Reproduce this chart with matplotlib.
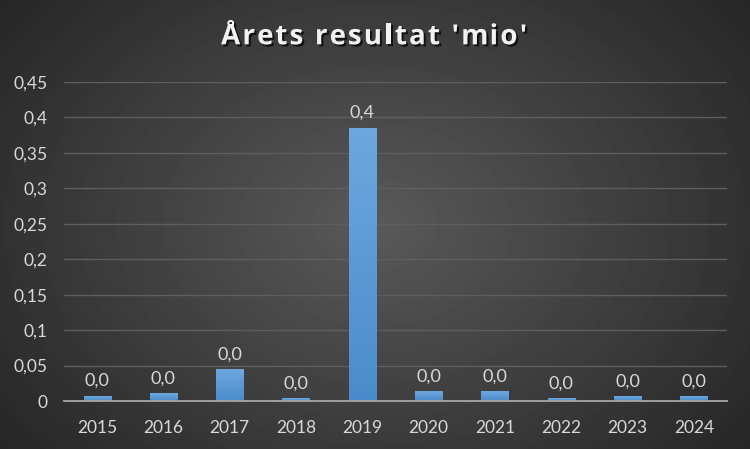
import numpy as np
import matplotlib.pyplot as plt
from matplotlib import patheffects
from matplotlib.colors import LinearSegmentedColormap

years = ["2015", "2016", "2017", "2018", "2019", "2020", "2021", "2022", "2023", "2024"]
resultat = [0.007, 0.011, 0.044, 0.004, 0.385, 0.013, 0.014, 0.004, 0.006, 0.006]
y_ticks = [0, 0.05, 0.1, 0.15, 0.2, 0.25, 0.3, 0.35, 0.4, 0.45]
title = "Årets resultat 'mio'"

plt.rcParams['font.family'] = ['Lato', 'DejaVu Sans']

fig = plt.figure(figsize=(7.5, 4.49), dpi=100)

# radial dark background
bg = fig.add_axes([0, 0, 1, 1])
yy, xx = np.mgrid[-1:1:449j, -1:1:750j]
r = np.sqrt(xx ** 2 + (yy * 0.8) ** 2)
bg.imshow(0.35 - 0.2 * np.clip(r / 1.28, 0, 1), cmap='gray', vmin=0, vmax=1,
          aspect='auto', extent=[0, 1, 0, 1])
bg.axis('off')

ax = fig.add_axes([0.0853, 0.1069, 0.8840, 0.7105])
ax.patch.set_alpha(0)

x = np.arange(len(years))
bars = ax.bar(x, resultat, width=0.41, color='#5b9bd5', zorder=3)
bar_cmap = LinearSegmentedColormap.from_list('bar', ['#4a8ccb', '#6ea7df'])
for b in bars:
    # gentle vertical gradient on each bar
    grad = np.linspace(0, 1, 50).reshape(-1, 1)
    ax.imshow(grad, cmap=bar_cmap, aspect='auto', zorder=4, origin='lower',
              extent=[b.get_x(), b.get_x() + b.get_width(), 0, b.get_height()])

for xi, v in zip(x, resultat):
    ax.annotate(f"{v:.1f}".replace('.', ','), (xi, v), xytext=(0, 5),
                textcoords='offset points', ha='center', va='bottom',
                fontsize=13, color='#d9d9d9')

ax.set_xlim(-0.5, len(years) - 0.5)
ax.set_ylim(0, 0.45)
ax.set_xticks(x)
ax.set_xticklabels(years)
ax.set_yticks(y_ticks)
ax.set_yticklabels([f"{t:g}".replace('.', ',') for t in y_ticks])
ax.tick_params(axis='both', length=0, colors='#d9d9d9', labelsize=12.5)
ax.tick_params(axis='y', pad=12)
ax.tick_params(axis='x', pad=14)
ax.grid(axis='y', color='#5e5e5e', linewidth=1, zorder=0)
for side in ['top', 'right', 'left']:
    ax.spines[side].set_visible(False)
ax.spines['bottom'].set_color('#a6a6a6')
ax.spines['bottom'].set_linewidth(1.3)
ax.spines['bottom'].set_zorder(5)

# title with letter spacing: place characters one by one
renderer = fig.canvas.get_renderer()
title_kw = dict(fontsize=20, fontweight='bold', color='#f2f2f2',
                family=['Open Sans', 'DejaVu Sans'], va='center', ha='left',
                path_effects=[patheffects.SimplePatchShadow(offset=(1.5, -1.5),
                                                            shadow_rgbFace='black', alpha=0.7),
                              patheffects.Normal()])
spacing = 2.2


def text_width(s):
    if not s:
        return 0.0
    t = fig.text(0, 0, s, **title_kw)
    w = t.get_window_extent(renderer).width
    t.remove()
    return w


total = text_width(title) + spacing * (len(title) - 1)
x0 = 374 - total / 2
for i, ch in enumerate(title):
    px = x0 + text_width(title[:i]) + spacing * i
    fig.text(px / 750, 0.918, ch, **title_kw)

fig.savefig('out.png', dpi=100)
